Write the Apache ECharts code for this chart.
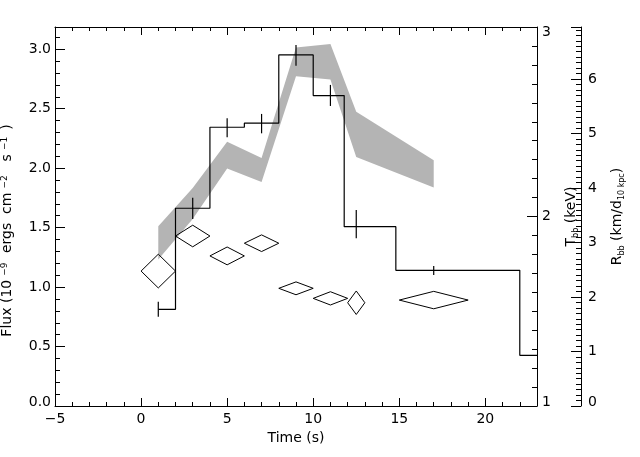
<!DOCTYPE html>
<html><head><meta charset="utf-8">
<script src="https://cdn.jsdelivr.net/npm/echarts@6/dist/echarts.min.js"></script>
<style>html,body{margin:0;padding:0;background:#fff}#c{width:640px;height:457px}</style>
</head><body><div id="c"></div>
<script>
// Flux histogram bins (10^-9 erg cm^-2 s^-1)
const binLeft  = [1, 2, 4, 6, 8, 10, 11.8, 14.8, 22];
const binRight = [2, 4, 6, 8, 10, 11.8, 14.8, 22, 23];
const binFlux  = [0.813, 1.663, 2.344, 2.378, 2.952, 2.61, 1.508, 1.141, 0.426];
// Flux error bars
const errTime     = [1, 3, 5, 7, 9, 11, 12.5, 17];
const errFluxLow  = [0.751, 1.573, 2.26, 2.293, 2.862, 2.523, 1.41, 1.102];
const errFluxHigh = [0.877, 1.752, 2.42, 2.456, 3.036, 2.70, 1.648, 1.177];
// Blackbody temperature (keV), diamonds
const tbbTime    = [1, 3, 5, 7, 9, 11, 12.5, 17];
const tbbTimeErr = [1, 1, 1, 1, 1, 1, 0.5, 2];
const tbbValue   = [1.712, 1.897, 1.792, 1.859, 1.621, 1.568, 1.545, 1.559];
const tbbErr     = [0.089, 0.057, 0.047, 0.044, 0.034, 0.035, 0.062, 0.046];
// Blackbody radius band (km / d_10kpc)
const rbbTime = [1, 3, 5, 7, 9, 11, 12.5, 17];
const rbbLow  = [2.69, 3.43, 4.36, 4.11, 6.05, 5.99, 4.57, 4.01];
const rbbHigh = [3.30, 4.00, 4.85, 4.55, 6.58, 6.64, 5.40, 4.51];
// Axis ranges / ticks
const timeMin = -5, timeMax = 23, timeMajor = 5, timeMinor = 1;
const fluxMin = 0, fluxMax = 3.187, fluxMajor = 0.5, fluxMinor = 0.1;
const tMin = 1, tMax = 3, tMajor = 1, tMinor = 0.1;
const rMin = 0, rMax = 6.954, rMajor = 1, rMinor = 0.1;

const FONT = 'DejaVu Sans';
const BLACK = '#000';
const FS = 14;

function isMult(v, step) { const q = v / step; return Math.abs(q - Math.round(q)) < 1e-6; }

function axisBase(extra, lineShow, tickLen) {
  return Object.assign({
    type: 'value',
    splitLine: { show: false },
    axisLine: { show: lineShow, onZero: false, lineStyle: { color: BLACK, width: 1 } },
    axisTick: { show: true, inside: true, length: tickLen, lineStyle: { color: BLACK, width: 1 } },
    axisLabel: { show: false },
    minorTick: { show: false }
  }, extra);
}

const stepData = [];
binLeft.forEach((l, i) => { stepData.push([l, binFlux[i]]); stepData.push([binRight[i], binFlux[i]]); });

const edgeRich = {
  lo: { fontFamily: FONT, fontSize: FS, color: BLACK, padding: [0, 0, 7, 0] },
  hi: { fontFamily: FONT, fontSize: FS, color: BLACK, padding: [10, 0, 0, 0] }
};
const lbl = (margin, fmt) => ({ show: true, color: BLACK, fontFamily: FONT, fontSize: FS, margin: margin, formatter: fmt, rich: edgeRich });

const xAxes = [
  axisBase({ position: 'bottom', min: timeMin, max: timeMax, interval: timeMajor,
    axisLabel: { show: true, color: BLACK, fontFamily: FONT, fontSize: FS, margin: 6,
      formatter: v => isMult(v, timeMajor) ? String(v).replace('-', '\u2212') : '' },
    name: 'Time (s)', nameLocation: 'middle', nameGap: 24,
    nameTextStyle: { color: BLACK, fontFamily: FONT, fontSize: FS } }, true, 8),
  axisBase({ position: 'bottom', min: timeMin, max: timeMax, interval: timeMinor }, false, 4),
  axisBase({ position: 'top', min: timeMin, max: timeMax, interval: timeMajor }, true, 8),
  axisBase({ position: 'top', min: timeMin, max: timeMax, interval: timeMinor }, false, 4)
];

const yAxes = [
  axisBase({ position: 'left', min: fluxMin, max: fluxMax, interval: fluxMajor,
    axisLabel: lbl(4, v => !isMult(v, fluxMajor) ? '' : (v === fluxMin ? '{lo|' + v.toFixed(1) + '}' : v.toFixed(1))),
    name: '{n|Flux (10}{s|\u22129}{n| ergs  cm}{s|\u22122}{n|  s}{s|\u22121}{p|)}',
    nameLocation: 'middle', nameGap: 33,
    nameTextStyle: { color: BLACK, fontFamily: FONT, fontSize: FS,
      rich: {
        n: { fontFamily: FONT, fontSize: FS, color: BLACK, lineHeight: 15, verticalAlign: 'bottom' },
        p: { fontFamily: FONT, fontSize: FS, color: BLACK, lineHeight: 15, verticalAlign: 'bottom', padding: [0, 28, 0, 2] },
        s: { fontFamily: FONT, fontSize: 9, color: BLACK, lineHeight: 10, padding: [0, 5, 9, 4], verticalAlign: 'top' }
      } } }, true, 10),
  axisBase({ position: 'left', min: fluxMin, max: fluxMax, interval: fluxMinor }, false, 5),
  axisBase({ position: 'right', min: tMin, max: tMax, interval: tMajor,
    axisLabel: lbl(5, v => !isMult(v, tMajor) ? '' : (v === tMin ? '{lo|' + v + '}' : (v === tMax ? '{hi|' + v + '}' : String(v)))),
    name: '{n|T}{b|bb}{n| (keV)}', nameLocation: 'middle', nameGap: 15,
    nameTextStyle: { color: BLACK, fontFamily: FONT, fontSize: FS,
      rich: {
        n: { fontFamily: FONT, fontSize: FS, color: BLACK, lineHeight: 15, verticalAlign: 'top' },
        b: { fontFamily: FONT, fontSize: 8, color: BLACK, lineHeight: 9, padding: [10, 0, 0, 0], verticalAlign: 'bottom' }
      } } }, true, 10),
  axisBase({ position: 'right', min: tMin, max: tMax, interval: tMinor }, false, 5),
  axisBase({ position: 'right', offset: 44, min: rMin, max: rMax, interval: rMajor,
    axisLabel: lbl(7, v => !isMult(v, rMajor) ? '' : (v === rMin ? '{lo|' + v + '}' : String(v))),
    name: '{n|R}{b|bb}{n| (km/d}{b|10 kpc}{n|)}', nameLocation: 'middle', nameGap: 21,
    nameTextStyle: { color: BLACK, fontFamily: FONT, fontSize: FS,
      rich: {
        n: { fontFamily: FONT, fontSize: FS, color: BLACK, lineHeight: 15, verticalAlign: 'top' },
        b: { fontFamily: FONT, fontSize: 8, color: BLACK, lineHeight: 9, padding: [10, 0, 0, 0], verticalAlign: 'bottom' }
      } } }, true, 10),
  axisBase({ position: 'right', offset: 44, min: rMin, max: rMax, interval: rMinor }, false, 5)
];

const chart = echarts.init(document.getElementById('c'), null, { renderer: 'canvas' });
chart.setOption({
  backgroundColor: '#fff',
  animation: false,
  grid: { left: 55, right: 103, top: 27, bottom: 51, containLabel: false, outerBoundsMode: 'none' },
  xAxis: xAxes,
  yAxis: yAxes,
  series: [
    {
      type: 'custom', xAxisIndex: 0, yAxisIndex: 4, z: 1, silent: true,
      data: [[rbbTime[0], rbbLow[0]]],
      renderItem: (params, api) => {
        const pts = [];
        for (let i = 0; i < rbbTime.length; i++) pts.push(api.coord([rbbTime[i], rbbHigh[i]]));
        for (let i = rbbTime.length - 1; i >= 0; i--) pts.push(api.coord([rbbTime[i], rbbLow[i]]));
        return { type: 'polygon', shape: { points: pts }, style: { fill: '#b4b4b4', stroke: null } };
      }
    },
    {
      type: 'line', xAxisIndex: 0, yAxisIndex: 0, z: 3, silent: true,
      data: stepData, symbol: 'none', lineStyle: { color: BLACK, width: 1.2 }
    },
    {
      type: 'custom', xAxisIndex: 0, yAxisIndex: 0, z: 3, silent: true,
      data: errTime.map((t, i) => [t, errFluxLow[i], errFluxHigh[i]]),
      encode: { x: 0, y: [1, 2] },
      renderItem: (params, api) => {
        const a = api.coord([api.value(0), api.value(1)]);
        const b = api.coord([api.value(0), api.value(2)]);
        return { type: 'line', shape: { x1: a[0], y1: a[1], x2: b[0], y2: b[1] }, style: { stroke: BLACK, lineWidth: 1.2 } };
      }
    },
    {
      type: 'custom', xAxisIndex: 0, yAxisIndex: 2, z: 3, silent: true,
      data: tbbTime.map((t, i) => [t, tbbValue[i], tbbTimeErr[i], tbbErr[i]]),
      encode: { x: 0, y: 1 },
      renderItem: (params, api) => {
        const t = api.value(0), v = api.value(1), dt = api.value(2), dv = api.value(3);
        const pts = [api.coord([t - dt, v]), api.coord([t, v + dv]), api.coord([t + dt, v]), api.coord([t, v - dv])];
        return { type: 'polygon', shape: { points: pts }, style: { fill: null, stroke: BLACK, lineWidth: 1 } };
      }
    }
  ]
});
</script></body></html>
